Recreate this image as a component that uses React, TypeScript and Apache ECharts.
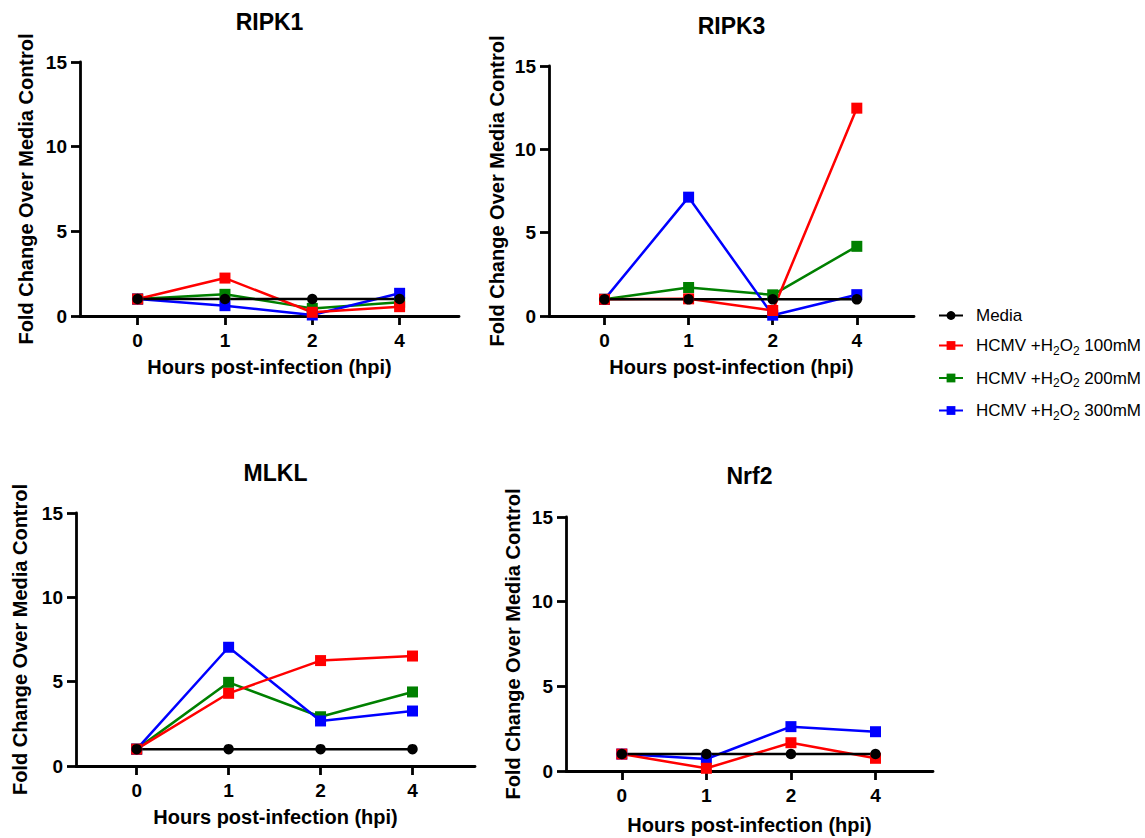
import React, { useEffect, useRef } from "react";
import * as echarts from "echarts";

// ---- data ----
const hours = ["0", "1", "2", "4"];
const panelTitles = ["RIPK1", "RIPK3", "MLKL", "Nrf2"];
const seriesNames = ["Media", "HCMV +H2O2 100mM", "HCMV +H2O2 200mM", "HCMV +H2O2 300mM"];

const ripk1Media = [1, 1, 1, 1];
const ripk1H100 = [1.0, 2.24, 0.22, 0.55];
const ripk1H200 = [1.0, 1.28, 0.45, 0.81];
const ripk1H300 = [1.0, 0.61, 0.06, 1.34];

const ripk3Media = [1, 1, 1, 1];
const ripk3H100 = [1.0, 1.03, 0.33, 12.47];
const ripk3H200 = [1.0, 1.71, 1.27, 4.18];
const ripk3H300 = [1.0, 7.13, 0.05, 1.28];

const mlklMedia = [1, 1, 1, 1];
const mlklH100 = [1.0, 4.31, 6.25, 6.52];
const mlklH200 = [1.0, 4.96, 2.92, 4.39];
const mlklH300 = [1.0, 7.04, 2.67, 3.26];

const nrf2Media = [1, 1, 1, 1];
const nrf2H100 = [1.0, 0.16, 1.67, 0.75];
const nrf2H200: (number | null)[] = [null, null, null, null];
const nrf2H300 = [1.0, 0.71, 2.62, 2.32];

const yTicks = [0, 5, 10, 15];

const FONT = "'Liberation Sans', Arial, Helvetica, sans-serif";

export default function App() {
  const ref = useRef<HTMLDivElement>(null);

  useEffect(() => {
    document.body.style.margin = "0";
    if (!ref.current) return;
    const chart = echarts.init(ref.current, null, { renderer: "svg" });

    const panelData = [
      [ripk1Media, ripk1H100, ripk1H200, ripk1H300],
      [ripk3Media, ripk3H100, ripk3H200, ripk3H300],
      [mlklMedia, mlklH100, mlklH200, mlklH300],
      [nrf2Media, nrf2H100, nrf2H200, nrf2H300],
    ];

    const grids = [
      { left: 80, top: 62, width: 379, height: 254 },
      { left: 549, top: 66, width: 365, height: 250 },
      { left: 76, top: 513, width: 399, height: 253 },
      { left: 566, top: 517, width: 367, height: 254 },
    ];
    const xNameGaps = [41, 41, 41, 44];
    const yNameGaps = [44, 42, 46, 43];
    const titleY = [22, 26, 473, 476];

    const colors = ["#000000", "#FF0000", "#008000", "#0000FF"];
    const drawOrder = [2, 3, 1, 0];

    const lineSt = { color: "#000", width: 2.8 };
    const axisTick = { show: true, inside: false, length: 9, lineStyle: lineSt };

    const xAxis = grids.map((_, i) => ({
      type: "value",
      gridIndex: i,
      min: -0.66,
      max: 3.68,
      axisLine: { show: true, onZero: false, lineStyle: lineSt },
      axisTick: { ...axisTick, customValues: [0, 1, 2, 3] },
      splitLine: { show: false },
      axisLabel: {
        customValues: [0, 1, 2, 3],
        formatter: (v: number) => hours[Math.round(v)] ?? "",
        color: "#000",
        fontFamily: FONT,
        fontWeight: "bold",
        fontSize: 19,
        margin: 15,
      },
      name: "Hours post-infection (hpi)",
      nameLocation: "middle",
      nameGap: xNameGaps[i],
      nameTextStyle: { color: "#000", fontFamily: FONT, fontWeight: "bold", fontSize: 20 },
    }));

    const yAxis = grids.map((_, i) => ({
      type: "value",
      gridIndex: i,
      min: yTicks[0],
      max: yTicks[yTicks.length - 1],
      interval: 5,
      axisLine: { show: true, onZero: false, lineStyle: lineSt },
      axisTick,
      splitLine: { show: false },
      axisLabel: {
        color: "#000",
        fontFamily: FONT,
        fontWeight: "bold",
        fontSize: 19,
        margin: 13,
      },
      name: "Fold Change Over Media Control",
      nameLocation: "middle",
      nameGap: yNameGaps[i],
      nameTextStyle: { color: "#000", fontFamily: FONT, fontWeight: "bold", fontSize: 20 },
    }));

    const series: any[] = [];
    panelData.forEach((sets, i) => {
      drawOrder.forEach((k) => {
        series.push({
          type: "line",
          name: seriesNames[k],
          xAxisIndex: i,
          yAxisIndex: i,
          data: sets[k].map((v, j) => [j, v]),
          symbol: k === 0 ? "circle" : "rect",
          symbolSize: k === 0 ? 10.5 : 11,
          showSymbol: true,
          lineStyle: { color: colors[k], width: 2.5 },
          itemStyle: { color: colors[k] },
          emphasis: { disabled: true },
        });
      });
    });

    const graphic = grids.map((g, i) => ({
      type: "text",
      x: g.left + g.width / 2,
      y: titleY[i],
      style: {
        text: panelTitles[i],
        textAlign: "center",
        textVerticalAlign: "middle",
        fontFamily: FONT,
        fontWeight: "bold",
        fontSize: 23,
        fill: "#000",
      },
    }));

    const legendFormatter = (name: string) => {
      if (name === "Media") return "{f|Media}";
      const conc = name.split(" ").pop();
      return `{f|HCMV +H}{s|2}{a|O}{s|2}{a| ${conc}}`;
    };

    chart.setOption({
      animation: false,
      grid: grids,
      xAxis,
      yAxis,
      series,
      graphic,
      legend: {
        data: seriesNames,
        orient: "vertical",
        left: 938,
        top: 307,
        padding: 0,
        itemGap: 13,
        itemWidth: 24,
        itemHeight: 11,
        selectedMode: false,
        formatter: legendFormatter,
        textStyle: {
          color: "#000",
          fontFamily: FONT,
          fontSize: 17,
          rich: {
            f: { fontFamily: FONT, fontSize: 17, color: "#000", lineHeight: 22, verticalAlign: "middle", padding: [0, 0, 0, 8] },
            a: { fontFamily: FONT, fontSize: 17, color: "#000", lineHeight: 22, verticalAlign: "middle" },
            s: { fontFamily: FONT, fontSize: 12, color: "#000", lineHeight: 12, verticalAlign: "bottom" },
          },
        },
      },
    });

    return () => chart.dispose();
  }, []);

  return <div ref={ref} style={{ width: 1145, height: 838 }} />;
}
